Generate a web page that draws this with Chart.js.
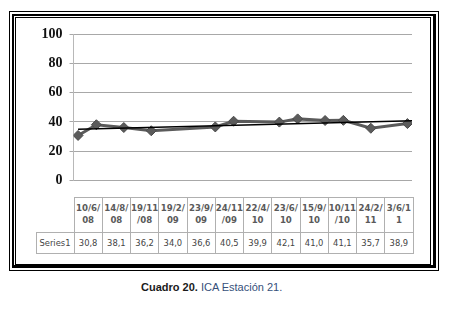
<!DOCTYPE html>
<html>
<head>
<meta charset="utf-8">
<script src="https://cdn.jsdelivr.net/npm/chart.js@4"></script>
<style>
  html, body { margin: 0; padding: 0; background: #fff; }
  body { width: 450px; height: 312px; position: relative; overflow: hidden; }
  .frame { position: absolute; box-sizing: border-box; border: 1px solid #000; }
  #f1 { left: 9px; top: 11px; width: 430px; height: 260px; border-width: 1.5px; }
  #f2 { left: 12px; top: 14px; width: 424px; height: 254px; border-width: 2px 3px 3px 2px; }
  #f3 { left: 15px; top: 17px; width: 416px; height: 248px; border-width: 1px; }
  #wrap { position: absolute; left: 0; top: 0; width: 450px; height: 196px; }
  table { position: absolute; left: 35.5px; top: 196.5px; border-collapse: collapse; table-layout: fixed; }
  td { border: 1px solid #b0b0b0; padding: 0; text-align: center; font-family: "DejaVu Sans", sans-serif; color: #555; overflow: visible; white-space: nowrap; }
  tr.head td { height: 34px; font-size: 8.6px; font-weight: bold; line-height: 11.5px; color: #5a5a5a; }
  tr.vals td { height: 20px; font-size: 8.4px; color: #444; }
  td.blank { border: none; }
  td.lab { width: 37px; font-size: 8px; color: #555; }
  td.c { width: 27.25px; }
  #cap { position: absolute; left: 141px; top: 281px; font-family: "Liberation Sans", Arial, sans-serif; font-size: 11px; color: #36507a; }
  #cap b { color: #1a1a1a; }
</style>
</head>
<body>
<div class="frame" id="f1"></div>
<div class="frame" id="f2"></div>
<div class="frame" id="f3"></div>
<div id="wrap"><canvas id="c"></canvas></div>
<table id="tbl"></table>
<div id="cap"><b>Cuadro 20.</b> ICA Estación 21.</div>
<script>
// sampling dates (d/m/yy) and ICA values
const dates = ['10/6/08', '14/8/08', '19/11/08', '19/2/09', '23/9/09', '24/11/09',
  '22/4/10', '23/6/10', '15/9/10', '10/11/10', '24/2/11', '3/6/11'];
const ica = [30.8, 38.1, 36.2, 34.0, 36.6, 40.5, 39.9, 42.1, 41.0, 41.1, 35.7, 38.9];
const seriesName = 'Series1';
// linear trend line, read at its two ends
const trendMonths = [0, 36.5];
const trendValues = [35.0, 40.8];
const yTicks = [0, 20, 40, 60, 80, 100];

// month index since June 2008 (axis base unit = months)
const monthIdx = (s) => {
  const [d, m, y] = s.split('/').map(Number);
  return (y - 8) * 12 + (m - 6);
};

const points = dates.map((d, i) => ({ x: monthIdx(d), y: ica[i] }));
const trend = trendMonths.map((x, i) => ({ x, y: trendValues[i] }));

new Chart(document.getElementById('c'), {
  type: 'scatter',
  data: {
    datasets: [
      {
        label: seriesName,
        data: points,
        showLine: true,
        borderColor: '#5b5b5b',
        borderWidth: 3,
        pointStyle: 'rectRot',
        pointRadius: 5,
        pointBackgroundColor: '#5b5b5b',
        pointBorderColor: '#4a4a4a',
        pointBorderWidth: 1,
        order: 2,
      },
      {
        label: 'trend',
        data: trend,
        showLine: true,
        borderColor: '#000',
        borderWidth: 1.4,
        pointRadius: 0,
        order: 1,
      },
    ],
  },
  options: {
    responsive: true,
    maintainAspectRatio: false,
    animation: false,
    layout: { padding: { top: 34, bottom: 2, left: 0, right: 38 } },
    plugins: { legend: { display: false }, tooltip: { enabled: false } },
    scales: {
      x: { type: 'linear', display: false, min: -0.5, max: 36.5 },
      y: {
        min: 0,
        max: 100,
        afterFit: (s) => { s.width = 73.5; },
        afterBuildTicks: (s) => { s.ticks = yTicks.map((v) => ({ value: v })); },
        ticks: { color: '#111', padding: 7, font: { family: 'Liberation Serif', size: 14, weight: 'bold' } },
        grid: { color: '#a8a8a8', lineWidth: 1, tickLength: 4 },
        border: { color: '#b8b8b8' },
      },
    },
  },
});

// data table under the plot
const tbl = document.getElementById('tbl');
const head = document.createElement('tr');
head.className = 'head';
head.innerHTML = '<td class="blank lab"></td>' +
  dates.map((d) => `<td class="c">${d.slice(0, 5)}<br>${d.slice(5)}</td>`).join('');
const vals = document.createElement('tr');
vals.className = 'vals';
vals.innerHTML = `<td class="lab">${seriesName}</td>` +
  ica.map((v) => `<td class="c">${v.toFixed(1).replace('.', ',')}</td>`).join('');
tbl.append(head, vals);
</script>
</body>
</html>
